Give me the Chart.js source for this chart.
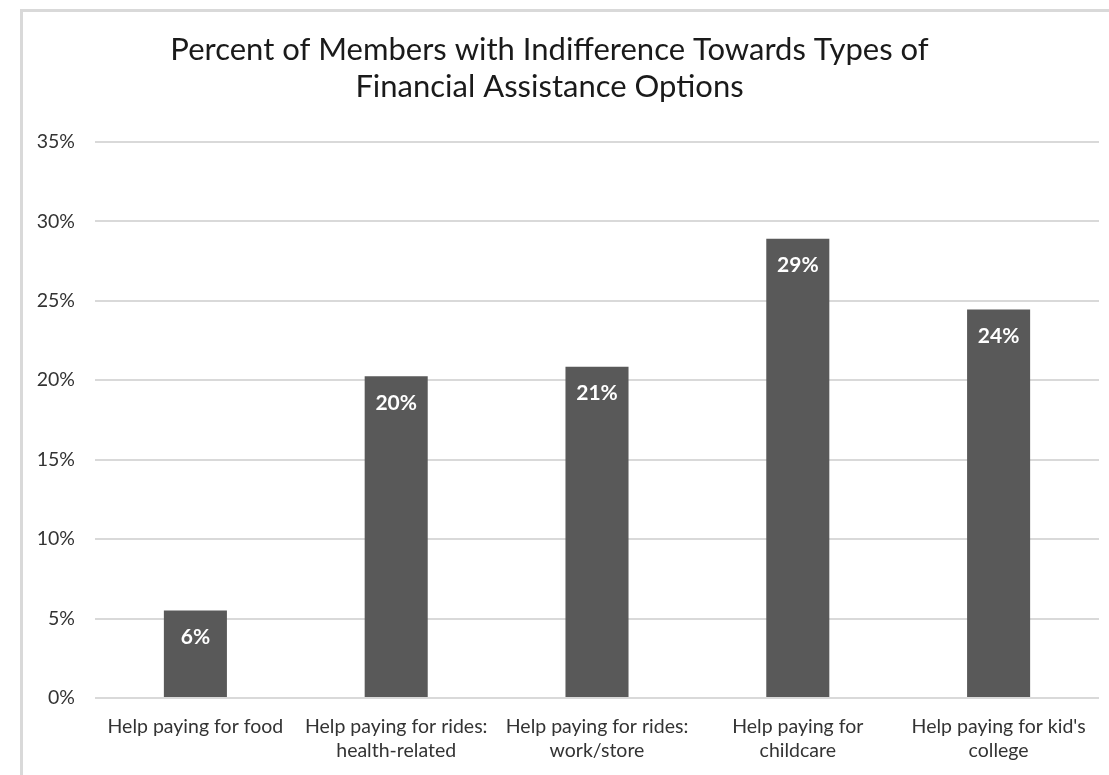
<!DOCTYPE html>
<html>
<head>
<meta charset="utf-8">
<script src="https://cdn.jsdelivr.net/npm/chart.js@4/dist/chart.umd.min.js"></script>
<style>
  html, body { margin: 0; padding: 0; background: #fff; }
  #wrap { position: relative; width: 1109px; height: 775px; overflow: hidden; }
  #frame { position: absolute; left: 20px; top: 9px; width: 1200px; height: 900px;
           border-left: 3px solid #d9d9d9; border-top: 3px solid #d9d9d9; pointer-events: none; }
  canvas { position: absolute; left: 0; top: 0; }
</style>
</head>
<body>
<div id="wrap">
  <canvas id="c" width="1109" height="775"></canvas>
  <div id="frame"></div>
</div>
<script>
const titleLines = ['Percent of Members with Indifference Towards Types of', 'Financial Assistance Options'];
const categories = [
  'Help paying for food',
  ['Help paying for rides:', 'health-related'],
  ['Help paying for rides:', 'work/store'],
  ['Help paying for', 'childcare'],
  ["Help paying for kid's", 'college']
];
const values = [5.5, 20.25, 20.85, 28.9, 24.45];
const dataLabels = ['6%', '20%', '21%', '29%', '24%'];
const yTicks = [0, 5, 10, 15, 20, 25, 30, 35];

const FONT = 'Lato, "Open Sans", sans-serif';

const labelPlugin = {
  id: 'barLabels',
  afterDatasetsDraw(chart) {
    const ctx = chart.ctx;
    const meta = chart.getDatasetMeta(0);
    ctx.save();
    ctx.fillStyle = '#ffffff';
    ctx.font = 'bold 21px ' + FONT;
    ctx.textAlign = 'center';
    ctx.textBaseline = 'middle';
    meta.data.forEach((bar, i) => {
      ctx.fillText(dataLabels[i], bar.x, bar.y + 27);
    });
    ctx.restore();
  }
};

new Chart(document.getElementById('c'), {
  type: 'bar',
  data: {
    labels: categories,
    datasets: [{
      data: values,
      backgroundColor: '#595959',
      borderWidth: 0,
      barPercentage: 0.314,
      categoryPercentage: 1.0
    }]
  },
  options: {
    responsive: false,
    animation: false,
    devicePixelRatio: 1,
    layout: { padding: { left: 0, right: 10, top: 0, bottom: 0 } },
    plugins: {
      legend: { display: false },
      tooltip: { enabled: false },
      title: {
        display: true,
        text: titleLines,
        color: '#1a1a1a',
        font: { family: FONT, size: 31, weight: 'normal', lineHeight: 1.19 },
        padding: { top: 32, bottom: 36 }
      }
    },
    scales: {
      x: {
        grid: { display: false, drawTicks: false },
        border: { display: false },
        ticks: {
          color: '#333333',
          font: { family: FONT, size: 19.5, lineHeight: 1.23 },
          padding: 17,
          maxRotation: 0,
          minRotation: 0,
          autoSkip: false
        },
        afterFit(scale) { scale.height = 77; }
      },
      y: {
        min: 0,
        max: 35,
        afterBuildTicks(scale) { scale.ticks = yTicks.map(v => ({ value: v })); },
        grid: { color: '#d9d9d9', lineWidth: 2, drawTicks: false },
        border: { display: false },
        ticks: {
          color: '#333333',
          font: { family: FONT, size: 19.5 },
          padding: 20,
          callback: v => v + '%'
        },
        afterFit(scale) { scale.width = 95; }
      }
    }
  },
  plugins: [labelPlugin]
});
</script>
</body>
</html>
